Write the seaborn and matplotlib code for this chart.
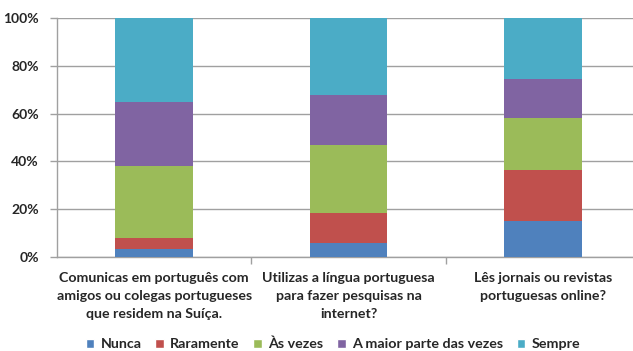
import matplotlib
matplotlib.use("Agg")
import matplotlib.pyplot as plt
from matplotlib.patches import Patch
from matplotlib.ticker import FuncFormatter
import seaborn as sns
import pandas as pd
import numpy as np

# Survey questions (category labels, already wrapped)
questions = [
    "Comunicas em português com\namigos ou colegas portugueses\nque residem na Suíça.",
    "Utilizas a língua portuguesa\npara fazer pesquisas na\ninternet?",
    "Lês jornais ou revistas\nportuguesas online?",
]
answers = ["Nunca", "Raramente", "Às vezes", "A maior parte das vezes", "Sempre"]

# Share of answers per question (%)
nunca = [3.2, 5.7, 15.2]
raramente = [4.9, 12.8, 21.3]
as_vezes = [30.0, 28.2, 21.5]
maior_parte = [26.9, 20.9, 16.5]
sempre = [35.0, 32.4, 25.5]

colors = ["#4F81BD", "#C0504D", "#9BBB59", "#8064A2", "#4BACC6"]

sns.set_theme(style="white")
plt.rcParams["font.family"] = ["Lato", "DejaVu Sans"]
plt.rcParams["font.weight"] = "bold"

series = [nunca, raramente, as_vezes, maior_parte, sempre]
cum = np.cumsum(np.array(series), axis=0)
df = pd.DataFrame({
    "question": np.tile(questions, len(answers)),
    "answer": np.repeat(answers, len(questions)),
    "top": cum.ravel(),
})

fig = plt.figure(figsize=(6.33, 3.51), dpi=100)
ax = fig.add_axes([57 / 633, 94 / 351, 583 / 633, 239 / 351])

# stacked bars: draw cumulative totals from the top layer down
for ans, col in reversed(list(zip(answers, colors))):
    sub = df[df["answer"] == ans]
    sns.barplot(data=sub, x="question", y="top", color=col, width=0.4,
                saturation=1, ax=ax, zorder=3, linewidth=0)

ax.set_xlim(-0.5, 2.5)
ax.set_ylim(0, 100)
ax.set_yticks(np.arange(0, 101, 20))
ax.yaxis.set_major_formatter(FuncFormatter(lambda v, p: f"{int(v)}%"))
ax.grid(axis="y", color="#A0A0A0", linewidth=1, zorder=0)
ax.set_axisbelow(True)
ax.set_xlabel("")
ax.set_ylabel("")

for s in ["top", "right"]:
    ax.spines[s].set_visible(False)
for s in ["left", "bottom"]:
    ax.spines[s].set_color("#A0A0A0")
    ax.spines[s].set_linewidth(1)

ax.tick_params(axis="y", which="both", length=5, color="#A0A0A0", width=1,
               labelsize=10, pad=8, left=True)
ax.set_xticks([0, 1, 2])
ax.set_xticklabels(questions, fontsize=10.2, linespacing=1.6)
ax.tick_params(axis="x", which="major", length=0, pad=11)
ax.set_xticks([0.5, 1.5], minor=True)
ax.tick_params(axis="x", which="minor", length=5, color="#A0A0A0", width=1,
               bottom=True)
for t in ax.get_yticklabels() + ax.get_xticklabels():
    t.set_fontweight("bold")

handles = [Patch(facecolor=c, label=a) for a, c in zip(answers, colors)]
fig.legend(handles=handles, loc="center", bbox_to_anchor=(333 / 633, 1 - 344 / 351),
           ncol=5, frameon=False, handlelength=0.6, handleheight=0.6,
           handletextpad=0.45, columnspacing=0.95,
           prop={"weight": "bold", "size": 10.3})

fig.savefig("out.png", dpi=100)
